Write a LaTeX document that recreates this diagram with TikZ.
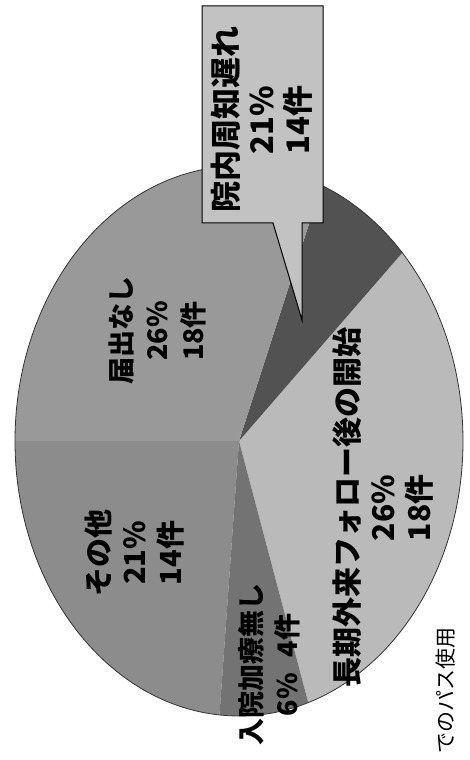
\documentclass[tikz,border=0pt]{standalone}
\usepackage{fontspec}
\newfontfamily\jp{Noto Sans CJK JP}
\begin{document}
\begin{tikzpicture}[x=1pt,y=1pt,
	pie/.style={x radius=224pt,y radius=275pt},
	lbl/.style={rotate=90,align=center,inner sep=0,font=\jp\bfseries\fontsize{#1}{36}\selectfont}]
	\useasboundingbox (0,0) rectangle (470,760);
	\coordinate (o) at (239,319);
	\fill[black!27] (o) -- ++(-72:224pt and 275pt) arc[start angle=-72,end angle=43.2,pie] -- cycle;
	\fill[black!68] (o) -- ++(43.2:224pt and 275pt) arc[start angle=43.2,end angle=68.4,pie] -- cycle;
	\fill[black!40] (o) -- ++(68.4:224pt and 275pt) arc[start angle=68.4,end angle=180,pie] -- cycle;
	\fill[black!45] (o) -- ++(180:224pt and 275pt) arc[start angle=180,end angle=265,pie] -- cycle;
	\fill[black!55] (o) -- ++(265:224pt and 275pt) arc[start angle=265,end angle=288,pie] -- cycle;
	\draw[black!80,line width=0.8pt] (o) ellipse[pie];
	\filldraw[fill=black!24,draw=black,line width=1pt] (202,754) -- (323,754) -- (323,537) -- (302,537) -- (302,440) -- (273,537) -- (202,537) -- cycle;
	\node[lbl=31] (insai) at (262,640) {院内周知遅れ\\21\%\\14件};
	\node[lbl=27] (todoke) at (157,429) {届出なし\\26\%\\18件};
	\node[lbl=29] (sonota) at (135,207) {その他\\21\%\\14件};
	\node[lbl=27] (nyuin) at (269,95) {入院加療無し\\6\%\hspace{0.6em}4件};
	\node[lbl=30] (choki) at (383,252) {長期外来フォロー後の開始\\26\%\\18件};
	\node[rotate=90,anchor=east,inner sep=0,font=\jp\fontsize{21}{21}\selectfont] (pasu) at (446,133) {でのパス使用};
\end{tikzpicture}
\end{document}
